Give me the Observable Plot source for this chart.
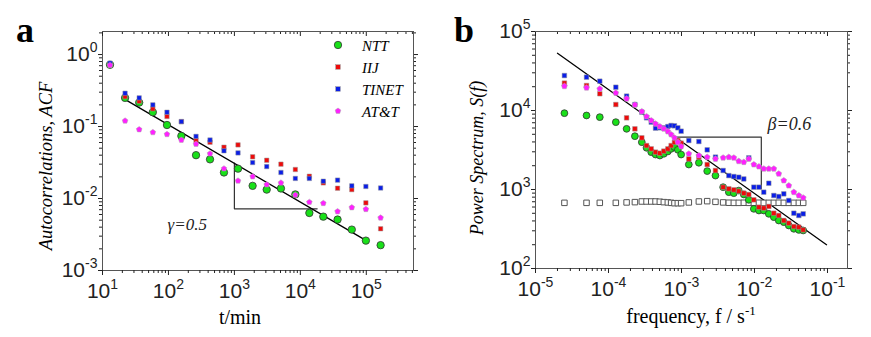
<!DOCTYPE html>
<html><head><meta charset="utf-8">
<script src="https://cdn.jsdelivr.net/npm/d3@7"></script>
<script src="https://cdn.jsdelivr.net/npm/@observablehq/plot@0.6"></script>
<style>
body{margin:0;background:#fff}
#wrap{position:relative;width:871px;height:337px;overflow:hidden;background:#fff}
.panel{position:absolute;top:0}
#ov{position:absolute;left:0;top:0;pointer-events:none}
</style>
</head><body>
<div id="wrap">
<div id="pa" class="panel" style="left:0"></div>
<div id="pb" class="panel" style="left:435px"></div>
<svg id="ov" width="871" height="337" font-family="Liberation Serif, Times New Roman, serif">
  <text x="16" y="42" font-size="36" font-weight="bold">a</text>
  <text x="454" y="42" font-size="36" font-weight="bold">b</text>
  <text x="240" y="324" font-size="20" text-anchor="middle">t/min</text>
  <text x="691" y="323" font-size="20" text-anchor="middle">frequency, f / s<tspan font-size="13" dy="-8">-1</tspan></text>
  <text transform="translate(52,166) rotate(-90)" font-size="18.5" font-style="italic" text-anchor="middle">Autocorrelations, ACF</text>
  <text transform="translate(483,158) rotate(-90)" font-size="18" font-style="italic" text-anchor="middle">Power Spectrum, S(f)</text>
  <g id="legend" font-size="15" font-style="italic"></g>
</svg>
</div>
<script>
// ---------- Panel a: autocorrelations ----------
const acfLag   = [13, 22, 36, 58, 95, 157, 262, 427, 695, 1135, 1890, 3090, 5080, 8400, 13700, 22300, 36700, 60300, 98600, 165000];
const acfNTT   = [0.72, 0.25, 0.215, 0.158, 0.105, 0.074, 0.040, 0.035, 0.023, 0.026, 0.015, 0.0133, 0.0138, 0.0114, 0.0063, 0.0056, 0.0051, 0.0037, 0.0026, 0.00225];
const acfIIJ   = [0.72, 0.26, 0.225, 0.176, 0.138, 0.117, 0.064, 0.0605, 0.0516, 0.0556, 0.038, 0.034, 0.030, 0.0253, 0.0204, 0.0165, 0.0139, 0.0133, 0.0087, 0.0038];
const acfTINET = [0.76, 0.29, 0.25, 0.20, 0.158, 0.117, 0.073, 0.065, 0.046, 0.043, 0.0316, 0.0278, 0.023, 0.019, 0.019, 0.0174, 0.018, 0.015, 0.0147, 0.014];
const acfATT   = [0.71, 0.12, 0.091, 0.083, 0.078, 0.065, 0.057, 0.042, 0.026, 0.0176, 0.0202, 0.0156, 0.0165, 0.0112, 0.0089, 0.0086, 0.0066, 0.0075, 0.0071, 0.0054];
const acfFitLag = [20, 100000];
const acfFitVal = [0.25, 0.0026];
const acfTriLag = [1000, 1000, 18000];
const acfTriVal = [0.031, 0.0072, 0.0072];
const acfNote = [{t: 97, v: 0.0043, label: "γ=0.5"}];
const acfXTicks = [10, 100, 1000, 10000, 100000];
const acfYTicks = [0.001, 0.01, 0.1, 1];

// ---------- Panel b: power spectrum ----------
const psdFreq = [2.49e-5, 5.0e-5, 7.6e-5, 1.26e-4, 1.77e-4, 2.30e-4, 2.86e-4, 3.32e-4, 3.85e-4, 4.41e-4, 5.05e-4, 5.73e-4, 6.50e-4, 7.21e-4, 8.01e-4, 8.91e-4, 9.89e-4, 1.26e-3, 1.73e-3, 2.25e-3, 2.92e-3, 3.72e-3, 4.45e-3, 5.21e-3, 6.09e-3, 7.14e-3, 8.36e-3, 9.79e-3, 1.15e-2, 1.34e-2, 1.57e-2, 1.84e-2, 2.15e-2, 2.52e-2, 2.95e-2, 3.46e-2, 4.05e-2, 4.65e-2];
const psdNTT   = [9250, 8650, 8240, 7120, 5860, 4730, 3970, 3370, 2970, 2770, 2690, 2830, 3030, 3270, 3440, 3180, 2770, 2070, 2180, 1710, 1500, 1070, 925, 899, 970, 865, 740, 569, 542, 542, 492, 447, 405, 386, 350, 318, 308, 303];
const psdIIJ   = [22200, 20700, 16300, 11900, 8080, 5860, 4510, 3600, 3270, 2970, 2880, 3060, 3270, 3600, 3970, 4170, 3860, 2440, 2570, 2070, 1740, 1070, 1020, 990, 953, 899, 865, 740, 597, 581, 610, 501, 469, 405, 375, 340, 334, 308];
const psdTINET = [27700, 26400, 23500, 19700, 15200, 11900, 9530, 8080, 7120, 5980, 6040, 6040, 6270, 6460, 6400, 6040, 5470, 4170, 4050, 3180, 2570, 1740, 1500, 1460, 1430, 1360, 2520, 1070, 1070, 925, 1200, 840, 815, 881, 726, 501, 469, 492];
const psdATT   = [20300, 19400, 18800, 16700, 14100, 11800, 9710, 8400, 7470, 6780, 6270, 5860, 5420, 4970, 4510, 3970, 3500, 2830, 2690, 2570, 2440, 2520, 2570, 2520, 2280, 2220, 2440, 2070, 1950, 1830, 1830, 1830, 1580, 1300, 1120, 925, 840, 785];
const psdShuffled = [678, 678, 678, 678, 686, 692, 705, 705, 705, 705, 700, 692, 686, 678, 671, 671, 671, 686, 705, 712, 698, 686, 680, 678, 678, 680, 678, 678, 680, 678, 678, 678, 680, 678, 678, 678, 678, 678];
const psdFitFreq = [2.0e-5, 0.097];
const psdFitVal  = [53000, 200];
const psdTriFreq = [8.4e-4, 0.0124, 0.0124];
const psdTriVal  = [4600, 4600, 1020];
const psdNote = [{f: 0.0151, v: 6790, label: "β=0.6"}];
const psdXTicks = [1e-5, 1e-4, 1e-3, 1e-2, 1e-1];
const psdYTicks = [100, 1000, 10000, 100000];

// ---------- series styling ----------
const seriesNames = ["NTT", "IIJ", "TINET", "AT&T"];
const COL = {NTT: "#19e019", IIJ: "#ee0a0a", TINET: "#0a1ee6", "AT&T": "#ff20ff"};

const pentagon = {
  draw(ctx, size) {
    const R = Math.sqrt(size / Math.PI) * 1.15;
    for (let i = 0; i < 5; i++) {
      const a = -Math.PI / 2 + i * 2 * Math.PI / 5;
      const x = R * Math.cos(a), y = R * Math.sin(a);
      if (i) ctx.lineTo(x, y); else ctx.moveTo(x, y);
    }
    ctx.closePath();
  }
};

const fmtPow = d => "10^" + Math.round(Math.log10(d));
const minorOf = (domain, majors) => d3.scaleLog().domain(domain).ticks().filter(v => !majors.some(m => Math.abs(m - v) / m < 1e-9));

function axes(xDom, yDom, xMaj, yMaj) {
  const xMin = minorOf(xDom, xMaj), yMin = minorOf(yDom, yMaj);
  return [
    Plot.axisX({ticks: xMin, tickSize: 3, tickFormat: () => "", label: null}),
    Plot.axisX({ticks: xMaj, tickSize: 5, tickPadding: 8, tickFormat: fmtPow, label: null}),
    Plot.axisY({ticks: yMin, tickSize: 3, tickFormat: () => "", label: null}),
    Plot.axisY({ticks: yMaj, tickSize: 4, tickPadding: 1, tickFormat: fmtPow, label: null}),
    Plot.axisX({anchor: "top", ticks: xMin, tickSize: -2, tickFormat: () => "", label: null}),
    Plot.axisX({anchor: "top", ticks: xMaj, tickSize: -4, tickFormat: () => "", label: null}),
    Plot.axisY({anchor: "right", ticks: yMin, tickSize: 2, tickFormat: () => "", label: null}),
    Plot.axisY({anchor: "right", ticks: yMaj, tickSize: 4, tickFormat: () => "", label: null})
  ];
}

const baseStyle = {fontFamily: "Liberation Sans, Arial, sans-serif", fontSize: "21px", color: "#222", background: "transparent", overflow: "visible"};

// Panel a
const acfRows = acfLag.map((t, i) => ({t, NTT: acfNTT[i], IIJ: acfIIJ[i], TINET: acfTINET[i], "AT&T": acfATT[i]}));
const acfFit = acfFitLag.map((t, i) => ({t, v: acfFitVal[i]}));
const acfTri = acfTriLag.map((t, i) => ({t, v: acfTriVal[i]}));
const aX = [10, 5.2e5], aY = [1e-3, 2.09];
const plotA = Plot.plot({
  width: 435, height: 337, marginLeft: 102, marginRight: 22, marginTop: 31, marginBottom: 67,
  style: baseStyle,
  x: {type: "log", domain: aX}, y: {type: "log", domain: aY},
  marks: [
    Plot.frame({stroke: "#555"}),
    ...axes(aX, aY, acfXTicks, acfYTicks),
    Plot.line(acfTri, {x: "t", y: "v", stroke: "#333", strokeWidth: 1.2}),
    Plot.line(acfFit, {x: "t", y: "v", stroke: "#000", strokeWidth: 1.3}),
    Plot.dot(acfRows, {x: "t", y: "NTT", r: 3.7, symbol: "circle", fill: COL.NTT, stroke: "#333", strokeWidth: 0.8}),
    Plot.dot(acfRows, {x: "t", y: "IIJ", r: 2.5, symbol: "square", fill: COL.IIJ, stroke: "#999", strokeWidth: 0.5}),
    Plot.dot(acfRows, {x: "t", y: "TINET", r: 2.5, symbol: "square", fill: COL.TINET, stroke: "#999", strokeWidth: 0.5}),
    Plot.dot(acfRows, {x: "t", y: "AT&T", r: 2.6, symbol: pentagon, fill: COL["AT&T"], stroke: "#aaa", strokeWidth: 0.5}),
    Plot.text(acfNote, {x: "t", y: "v", text: "label", textAnchor: "start", fontFamily: "Liberation Serif, serif", fontStyle: "italic", fontSize: 17, fill: "#222"})
  ]
});
document.getElementById("pa").appendChild(plotA);

// Panel b
const psdRows = psdFreq.map((f, i) => ({f, NTT: psdNTT[i], IIJ: psdIIJ[i], TINET: psdTINET[i], "AT&T": psdATT[i], shuf: psdShuffled[i]}));
const psdFit = psdFitFreq.map((f, i) => ({f, v: psdFitVal[i]}));
const psdTri = psdTriFreq.map((f, i) => ({f, v: psdTriVal[i]}));
const bX = [1e-5, 0.188], bY = [100, 1e5];
const plotB = Plot.plot({
  width: 436, height: 337, marginLeft: 100, marginRight: 24, marginTop: 31, marginBottom: 69,
  style: baseStyle,
  x: {type: "log", domain: bX}, y: {type: "log", domain: bY},
  marks: [
    Plot.frame({stroke: "#555"}),
    ...axes(bX, bY, psdXTicks, psdYTicks),
    Plot.line(psdTri, {x: "f", y: "v", stroke: "#333", strokeWidth: 1.2}),
    Plot.line(psdFit, {x: "f", y: "v", stroke: "#000", strokeWidth: 1.3}),
    Plot.dot(psdRows, {x: "f", y: "shuf", r: 3.1, symbol: "square", fill: "white", stroke: "#555", strokeWidth: 1}),
    Plot.dot(psdRows, {x: "f", y: "NTT", r: 3.4, symbol: "circle", fill: COL.NTT, stroke: "#333", strokeWidth: 0.8}),
    Plot.dot(psdRows, {x: "f", y: "IIJ", r: 2.6, symbol: "square", fill: COL.IIJ, stroke: "#999", strokeWidth: 0.5}),
    Plot.dot(psdRows, {x: "f", y: "TINET", r: 2.6, symbol: "square", fill: COL.TINET, stroke: "#999", strokeWidth: 0.5}),
    Plot.dot(psdRows, {x: "f", y: "AT&T", r: 2.7, symbol: pentagon, fill: COL["AT&T"], stroke: "#aaa", strokeWidth: 0.5}),
    Plot.text(psdNote, {x: "f", y: "v", text: "label", textAnchor: "start", fontFamily: "Liberation Serif, serif", fontStyle: "italic", fontSize: 18, fill: "#222"})
  ]
});
document.getElementById("pb").appendChild(plotB);

// superscript exponents in tick labels
const NS = "http://www.w3.org/2000/svg";
for (const svg of [plotA, plotB]) {
  svg.querySelectorAll("text").forEach(t => {
    const m = t.textContent.match(/^10\^(-?\d+)$/);
    if (m) {
      t.textContent = "10";
      const ts = document.createElementNS(NS, "tspan");
      ts.textContent = m[1];
      ts.setAttribute("font-size", "14");
      ts.setAttribute("dy", "-9");
      t.appendChild(ts);
    }
  });
}

// legend (panel a)
const lg = document.getElementById("legend");
const legendRows = [45, 67, 89, 111];
seriesNames.forEach((name, i) => {
  const cy = legendRows[i], cx = 338;
  let shape;
  if (name === "NTT") {
    shape = document.createElementNS(NS, "circle");
    shape.setAttribute("cx", cx); shape.setAttribute("cy", cy); shape.setAttribute("r", 3.7);
    shape.setAttribute("stroke", "#333"); shape.setAttribute("stroke-width", 0.8);
  } else if (name === "AT&T") {
    shape = document.createElementNS(NS, "path");
    const p = d3.path(); pentagon.draw(p, 2.6 * 2.6 * Math.PI);
    shape.setAttribute("d", p.toString()); shape.setAttribute("transform", `translate(${cx},${cy})`);
    shape.setAttribute("stroke", "#aaa"); shape.setAttribute("stroke-width", 0.5);
  } else {
    shape = document.createElementNS(NS, "rect");
    shape.setAttribute("x", cx - 2.3); shape.setAttribute("y", cy - 2.3);
    shape.setAttribute("width", 4.6); shape.setAttribute("height", 4.6);
    shape.setAttribute("stroke", "#999"); shape.setAttribute("stroke-width", 0.5);
  }
  shape.setAttribute("fill", COL[name]);
  lg.appendChild(shape);
  const tx = document.createElementNS(NS, "text");
  tx.setAttribute("x", 362); tx.setAttribute("y", cy + 6);
  tx.textContent = name;
  lg.appendChild(tx);
});
</script>
</body></html>
